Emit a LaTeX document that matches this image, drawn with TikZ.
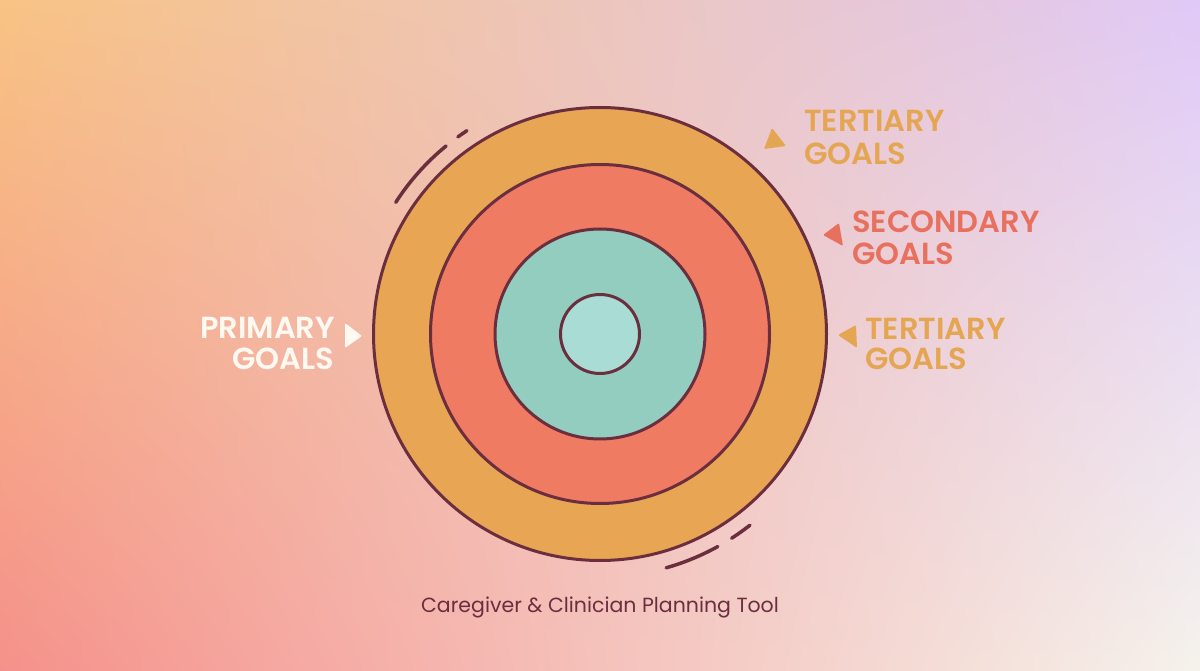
\documentclass[tikz,border=0pt]{standalone}
\usepackage{fontspec}
\setmainfont{Poppins}
\newfontfamily\semifont{Poppins SemiBold}
\usetikzlibrary{shadings}
\definecolor{stroke}{HTML}{6B2E3E}
\definecolor{ringA}{HTML}{E8A553}
\definecolor{ringB}{HTML}{EF7B63}
\definecolor{ringC}{HTML}{93CDBF}
\definecolor{ringD}{HTML}{A9DCD5}
\definecolor{labA}{HTML}{E5A654}
\definecolor{labB}{HTML}{E8705F}
\definecolor{labW}{HTML}{FFF9F2}
\definecolor{bgTL}{HTML}{F8C384}
\definecolor{bgTR}{HTML}{E0C9F7}
\definecolor{bgBL}{HTML}{F5918A}
\definecolor{bgBR}{HTML}{F5F2EC}
\begin{document}
\begin{tikzpicture}[x=1pt,y=1pt,
  ring/.style={draw=stroke,line width=3pt},
  swoosh/.style={draw=stroke,line width=3.5pt,line cap=round},
  lab/.style={inner sep=0pt,font=\fontsize{30.5}{34}\semifont},
  pointer/.style={rounded corners=1.2pt}]
\useasboundingbox (0,0) rectangle (1200,670);
\shade[upper left=bgTL,upper right=bgTR,lower left=bgBL,lower right=bgBR] (0,0) rectangle (1200,670);
\coordinate (c) at (600,336);
% rings
\draw[ring,fill=ringA] (c) circle (226.5);
\draw[ring,fill=ringB] (c) circle (169.5);
\draw[ring,fill=ringC] (c) circle (105);
\draw[ring,fill=ringD] (c) circle (39.5);
% swooshes
\draw[swoosh] ([shift={(147.2:243)}]c) arc (147.2:129.3:243);
\draw[swoosh] ([shift={(125.8:243)}]c) arc (125.8:123.2:243);
\draw[swoosh] ([shift={(-74.2:243)}]c) arc (-74.2:-61:243);
\draw[swoosh] ([shift={(-57.2:243)}]c) arc (-57.2:-51.9:243);
% pointers
\fill[labA,pointer] (772,542) -- (764,521) -- (786,524) -- cycle;
\fill[labB,pointer] (823,435) -- (839,447) -- (843,424) -- cycle;
\fill[labA,pointer] (838,335) -- (856,345) -- (857,322) -- cycle;
\fill[labW,pointer] (345,347) -- (345,322) -- (362,334) -- cycle;
% labels
\node[lab,text=labA,anchor=base west] (t1a) at (804,538) {TERTIARY};
\node[lab,text=labA,anchor=base west] (t1b) at (804,505) {GOALS};
\node[lab,text=labB,anchor=base west] (s1a) at (852,437) {SECONDARY};
\node[lab,text=labB,anchor=base west] (s1b) at (852,405) {GOALS};
\node[lab,text=labA,anchor=base west] (t2a) at (865,330) {TERTIARY};
\node[lab,text=labA,anchor=base west] (t2b) at (865,300) {GOALS};
\node[lab,text=labW,anchor=base east] (p1a) at (335,331) {PRIMARY};
\node[lab,text=labW,anchor=base east] (p1b) at (334,300) {GOALS};
% caption
\node[inner sep=0pt,text=stroke,font=\fontsize{20.5}{24}\selectfont,anchor=base] (cap) at (600,58) {Caregiver \& Clinician Planning Tool};
\end{tikzpicture}
\end{document}
